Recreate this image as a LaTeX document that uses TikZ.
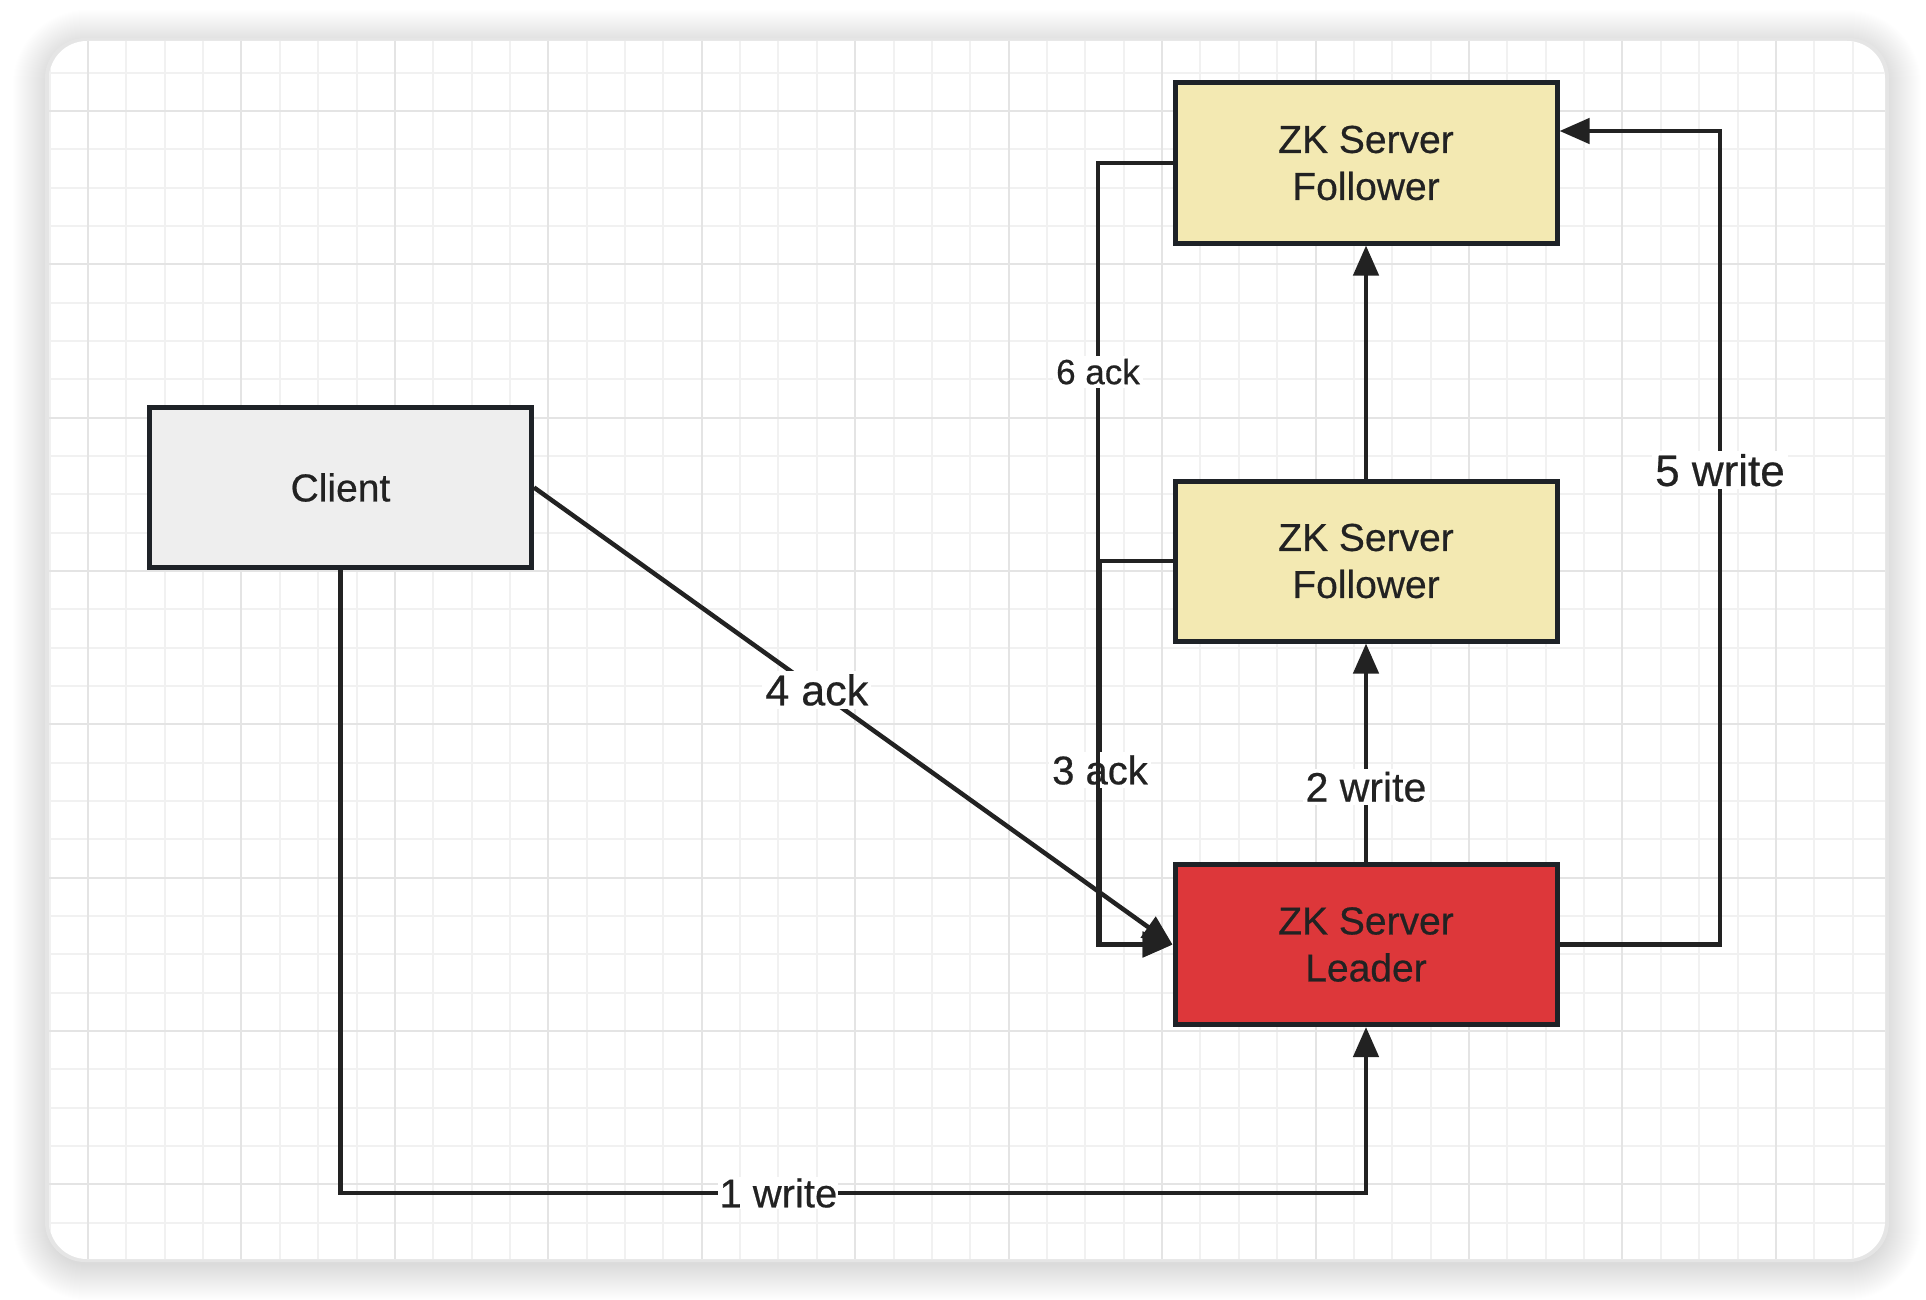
\documentclass[tikz,border=0pt]{standalone}
\usepackage{fontspec}
\setmainfont{Liberation Sans}[FakeBold=0.5]
\usetikzlibrary{arrows.meta}
\definecolor{ink}{HTML}{222222}
\definecolor{bord}{HTML}{1E2227}
\definecolor{yel}{HTML}{F3E9B2}
\definecolor{redf}{HTML}{DD373A}
\definecolor{cli}{HTML}{EEEEEE}
\definecolor{gmin}{HTML}{F1F1F1}
\definecolor{gmaj}{HTML}{E4E4E4}
\begin{document}
\begin{tikzpicture}[x=1pt,y=-1pt,
 box/.style={draw=bord, line width=5pt, minimum width=382pt, minimum height=160pt, align=center, font=\fontsize{39}{47}\selectfont, text=ink, inner sep=0pt},
 conn/.style={draw=ink, line width=4.5pt, -{Triangle[length=30pt,width=25pt]}},
 lab/.style={fill=white, text=ink, font=\fontsize{42}{44}\selectfont, inner sep=3pt},
 gridmin/.style={draw=gmin, line width=2pt},
 gridmaj/.style={draw=gmaj, line width=2pt}
]
\useasboundingbox (0,0) rectangle (1926,1300);
\fill[white] (0,0) rectangle (1926,1300);
% shadow
\foreach \i [evaluate=\i as \r using 38+\i] in {1,...,36}{
  \fill[black, opacity=0.0055, rounded corners=\r pt] (49-\i,46-\i) rectangle (1885+\i,1264+\i);
}
% card
\fill[black!10, rounded corners=40pt] (45,38) rectangle (1889,1262);
\fill[white, rounded corners=38pt] (49,41) rectangle (1885,1259);
\begin{scope}
\clip[rounded corners=38pt] (49,41) rectangle (1885,1259);
\foreach \k in {-1,...,46} \draw[gridmin] ({88+38.36*\k},41) -- ++(0,1218);
\foreach \k in {-1,...,29} \draw[gridmin] (49,{111+38.33*\k}) -- ++(1836,0);
\foreach \k in {0,4,...,44} \draw[gridmaj] ({88+38.36*\k},41) -- ++(0,1218);
\foreach \k in {0,4,...,28} \draw[gridmaj] (49,{111+38.33*\k}) -- ++(1836,0);
\end{scope}
% nodes
\node[box, fill=cli] (cl) at (340.5,487.5) {Client};
\node[box, fill=yel] (f1) at (1366,163) {ZK Server\\Follower};
\node[box, fill=yel] (f2) at (1366,561) {ZK Server\\Follower};
\node[box, fill=redf] (ld) at (1366,944.5) {ZK Server\\Leader};
% helper coordinates
\coordinate (yb) at (0,1193);
\coordinate (x3) at (1100,0);
\coordinate (x6) at (1098,0);
\coordinate (c5) at (1720,131);
% connectors
\draw[conn] (cl.south) -- (cl.south |- yb) -- node[lab,pos=0.427,inner sep=1pt,font=\fontsize{40}{42}\selectfont]{1 write} (yb -| ld.south) -- (ld.south);
\draw[conn] (cl.east) -- node[lab,pos=0.443,font=\fontsize{43}{45}\selectfont]{4 ack} (ld.west);
\draw[conn] (ld.north) -- node[lab,pos=0.344,font=\fontsize{41}{43}\selectfont]{2 write} (f2.south);
\draw[conn] (f2.north) -- (f1.south);
\draw[conn] (ld.east) -- (ld.east -| c5) -- node[lab,pos=0.583,font=\fontsize{44}{46}\selectfont]{5 write} (c5) -- (c5 -| f1.east);
\draw[conn] (f2.west) -- (f2.west -| x3) -- node[lab,pos=0.545,font=\fontsize{40}{42}\selectfont]{3 ack} (x3 |- ld.west) -- (ld.west);
\draw[conn] (f1.west) -- (f1.west -| x6) -- node[lab,pos=0.267,font=\fontsize{35}{37}\selectfont]{6 ack} (x6 |- ld.west) -- (ld.west);
\end{tikzpicture}
\end{document}
